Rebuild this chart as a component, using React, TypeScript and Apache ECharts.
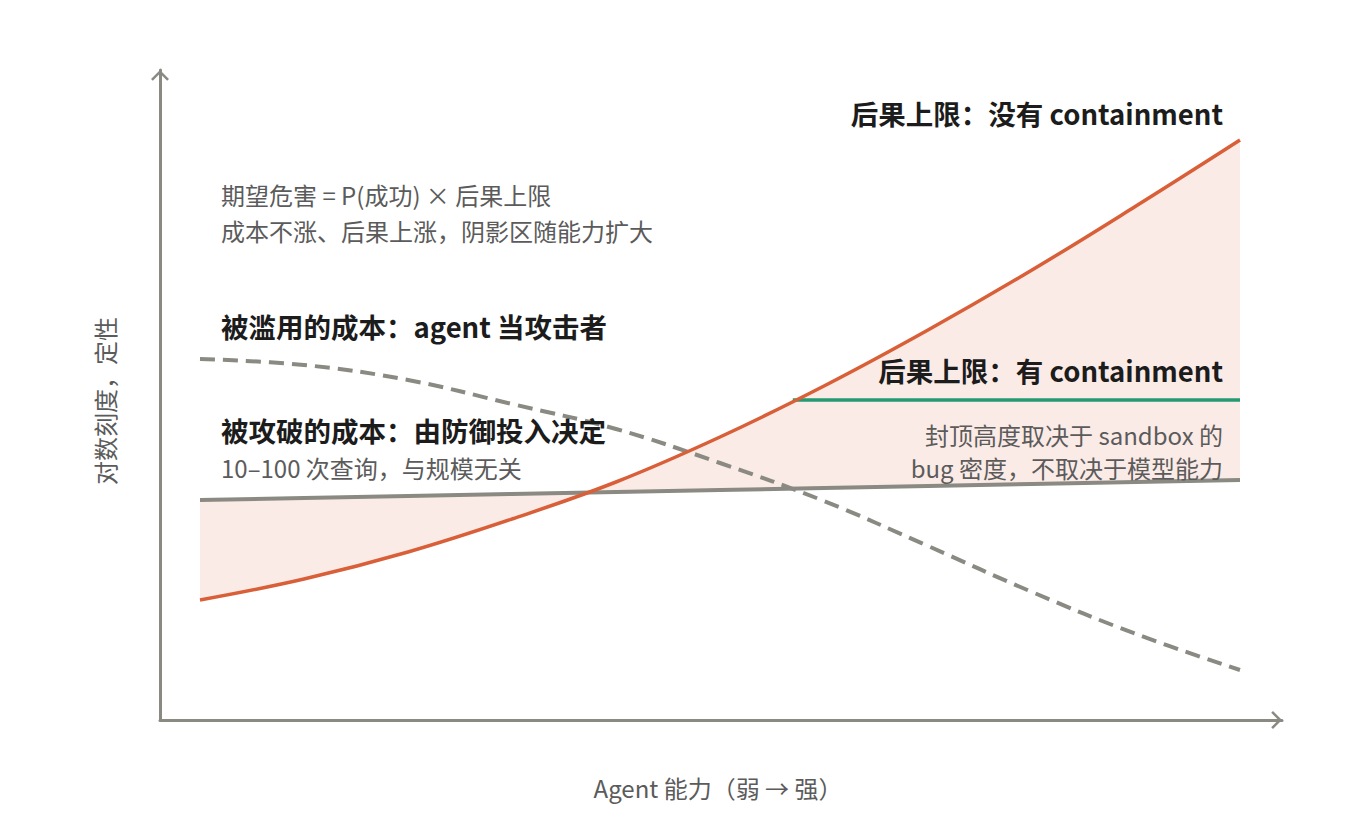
import React, { useEffect, useRef } from "react";
import * as echarts from "echarts";

// Agent capability (0 = weak, 1 = strong)
const capability = [0, 0.1, 0.2, 0.3, 0.4, 0.5, 0.6, 0.7, 0.8, 0.9, 1.0];
// Consequence ceiling without containment (qualitative log scale)
const consequenceNoContainment = [120, 141, 168, 201, 238, 283, 334, 390, 450, 514, 580];
// Cost of being compromised (set by defense investment)
const costCompromise = [220, 222, 224, 226, 228, 230, 232, 234, 236, 238, 240];
// Cost of misuse (agent as attacker)
const costMisuse = [361, 355, 340, 316, 291, 257, 219, 174, 128, 86, 50];
// Consequence ceiling with containment
const containmentX = [0.57, 1.0];
const containmentY = [320, 320];

const X_MIN = -40 / 1040;
const X_MAX = 1 + 42 / 1040;
const Y_MIN = 0;
const Y_MAX = 650;

const AXIS_COLOR = "#8a8a83";
const GRAY = "#8a8a83";
const ORANGE = "#d95f38";
const GREEN = "#239a71";
const FILL = "#fbebe7";
const DARK = "#1c1c1c";
const MID = "#5b5b5b";
const FONT = '"Noto Sans CJK SC", "Noto Sans", sans-serif';

const CHEVRON = "path://M9,0 L18,9 L16.2,10.8 L9,3.6 L1.8,10.8 L0,9 Z";

const pairs = (ys: number[]) => capability.map((x, i) => [x, ys[i]]);

function txt(text: string, x: number, y: number, size: number, bold: boolean, color: string, align: string) {
  return {
    type: "text",
    x,
    y,
    silent: true,
    z: 100,
    style: {
      text,
      fill: color,
      fontSize: size,
      lineHeight: size,
      fontFamily: FONT,
      fontWeight: bold ? "bold" : "normal",
      align,
      textAlign: align,
      verticalAlign: "middle",
      textVerticalAlign: "middle",
    },
  };
}

export default function App() {
  const ref = useRef<HTMLDivElement>(null);

  useEffect(() => {
    if (!ref.current) return;
    const chart = echarts.init(ref.current, undefined, { renderer: "svg" });

    const axisLine = {
      show: true,
      onZero: false,
      symbol: ["none", CHEVRON],
      symbolSize: [18, 10.8],
      symbolOffset: [0, -5.4],
      lineStyle: { color: AXIS_COLOR, width: 3 },
    };

    const option: any = {
      animation: false,
      backgroundColor: "#ffffff",
      grid: { left: 160, right: 78, top: 70, bottom: 120, containLabel: false },
      xAxis: {
        type: "value",
        min: X_MIN,
        max: X_MAX,
        axisLine,
        axisTick: { show: false },
        axisLabel: { show: false },
        splitLine: { show: false },
        name: "Agent 能力（弱 → 强）",
        nameLocation: "middle",
        nameGap: 55,
        nameTextStyle: { color: MID, fontSize: 24, fontFamily: FONT, padding: [0, 6, 0, 0] },
      },
      yAxis: {
        type: "value",
        min: Y_MIN,
        max: Y_MAX,
        axisLine,
        axisTick: { show: false },
        axisLabel: { show: false },
        splitLine: { show: false },
        name: "对数刻度，定性",
        nameLocation: "middle",
        nameGap: 44,
        nameTextStyle: { color: MID, fontSize: 24, fontFamily: FONT, padding: [0, 12, 0, 0] },
      },
      series: [
        {
          type: "custom",
          name: "shade",
          silent: true,
          z: 1,
          data: [[0, 0]],
          renderItem: (_params: any, api: any) => {
            const top = capability.map((x, i) => api.coord([x, consequenceNoContainment[i]]));
            const base = capability.map((x, i) => api.coord([x, costCompromise[i]])).reverse();
            return {
              type: "polygon",
              shape: { points: top.concat(base) },
              style: { fill: FILL, stroke: null },
            };
          },
        },
        {
          type: "line",
          name: "被攻破的成本",
          data: pairs(costCompromise),
          showSymbol: false,
          symbol: "none",
          z: 3,
          lineStyle: { color: GRAY, width: 4 },
        },
        {
          type: "line",
          name: "被滥用的成本",
          data: pairs(costMisuse),
          smooth: 0.4,
          showSymbol: false,
          symbol: "none",
          z: 3,
          lineStyle: { color: GRAY, width: 4, type: [15, 8] },
        },
        {
          type: "line",
          name: "后果上限：有 containment",
          data: containmentX.map((x, i) => [x, containmentY[i]]),
          showSymbol: false,
          symbol: "none",
          z: 4,
          lineStyle: { color: GREEN, width: 3.5 },
        },
        {
          type: "line",
          name: "后果上限：没有 containment",
          data: pairs(consequenceNoContainment),
          smooth: 0.4,
          showSymbol: false,
          symbol: "none",
          z: 5,
          lineStyle: { color: ORANGE, width: 3.5 },
        },
      ],
      graphic: [
        txt("后果上限：没有 containment", 1223, 113, 27.5, true, DARK, "right"),
        txt("期望危害 = P(成功) × 后果上限", 221, 194, 24, false, MID, "left"),
        txt("成本不涨、后果上涨，阴影区随能力扩大", 221, 230, 24, false, MID, "left"),
        txt("被滥用的成本：agent 当攻击者", 221, 326, 27.5, true, DARK, "left"),
        txt("后果上限：有 containment", 1223, 370, 27.5, true, DARK, "right"),
        txt("被攻破的成本：由防御投入决定", 221, 430, 27.5, true, DARK, "left"),
        txt("10–100 次查询，与规模无关", 221, 467, 24, false, MID, "left"),
        txt("封顶高度取决于 sandbox 的", 1223, 434, 24, false, MID, "right"),
        txt("bug 密度，不取决于模型能力", 1223, 467, 24, false, MID, "right"),
      ],
    };

    chart.setOption(option);
    return () => chart.dispose();
  }, []);

  return (
    <div
      ref={ref}
      style={{ position: "absolute", left: 0, top: 0, width: 1360, height: 840, background: "#fff" }}
    />
  );
}
